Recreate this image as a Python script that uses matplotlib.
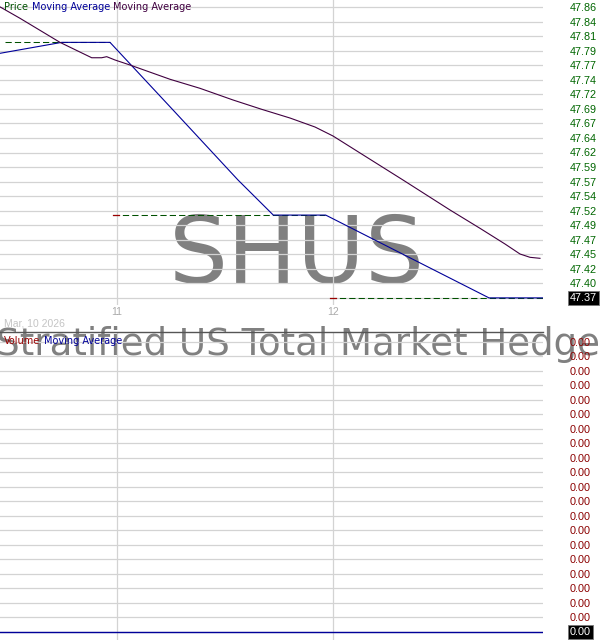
"""Intraday price chart for SHUS with a price panel and a volume panel."""

import matplotlib

matplotlib.use("Agg")
import matplotlib.pyplot as plt
import numpy as np

# --- data --------------------------------------------------------------------
# x values are fractional day numbers (11 = start of Mar 11)
PRICE_SEG_START = [10.4815, 10.981, 11.986]
PRICE_SEG_END = [10.9676, 11.963, 12.9722]
PRICE_VALUES = [47.804, 47.512, 47.372]
PRICE_OPEN_MARK = [False, True, True]

MA1_T = [10.4583, 10.744, 10.9676, 11.2593, 11.5602, 11.7236, 11.9662, 12.7222, 12.9722]
MA1_V = [47.7855, 47.804, 47.804, 47.6897, 47.5713, 47.512, 47.512, 47.372, 47.372]

MA2_T = [10.4583, 10.5509, 10.7361, 10.8829, 10.9292, 10.9523, 10.9907, 11.0602,
         11.2454, 11.3843, 11.5370, 11.6699, 11.8009, 11.9167, 12.0, 12.125,
         12.3241, 12.5417, 12.6806, 12.7963, 12.8657, 12.912, 12.9583]
MA2_V = [47.864, 47.8447, 47.804, 47.778, 47.778, 47.7798, 47.7742, 47.7657,
         47.7416, 47.7263, 47.7066, 47.6908, 47.6761, 47.6609, 47.6457, 47.6170,
         47.5713, 47.5206, 47.4896, 47.4631, 47.4462, 47.4406, 47.4389]

VOLUME_T = [10.4815, 10.981, 11.986]
VOLUME = [0.0, 0.0, 0.0]
VOL_MA_T = [10.4583, 12.9722]
VOL_MA = [0.0, 0.0]

X_RANGE = (10.4583, 12.9722)
X_TICKS = [11, 12]
X_TICK_LABELS = ["11", "12"]

PRICE_LO, PRICE_HI = 47.3718, 47.8638
PRICE_TICK_LABELS = ["47.37", "47.40", "47.42", "47.45", "47.47", "47.49", "47.52",
                     "47.54", "47.57", "47.59", "47.62", "47.64", "47.67", "47.69",
                     "47.72", "47.74", "47.77", "47.79", "47.81", "47.84", "47.86"]
LAST_PRICE_LABEL = "47.37"

VOL_LO, VOL_HI = 0.0, 0.004
VOL_TICK_LABELS = ["0.00"] * 21
LAST_VOL_LABEL = "0.00"

DATE_LABEL = "Mar, 10 2026"
SYMBOL = "SHUS"
FUND_NAME = "Stratified US Total Market Hedged ETF"

# --- style -------------------------------------------------------------------
GRID_C = "#d3d3d3"
BLUE = "#000099"
PURPLE = "#400040"
PRICE_C = "#005000"
RED = "#990000"
LABEL_GREEN = "#006600"
LABEL_RED = "#8b0000"
LABEL_FONT = "Liberation Sans"

W, H = 600, 640
PLOT_W = 543


def chain_text(ax, fig, x, y, parts, fontsize=7):
    t = fig.text(x, y, parts[0][0], color=parts[0][1], fontsize=fontsize,
                 ha="left", va="center", family="DejaVu Sans")
    for s, c in parts[1:]:
        t = ax.annotate(s, xy=(1, 0), xycoords=t, xytext=(2.6, 0),
                        textcoords="offset points", ha="left", va="bottom",
                        color=c, fontsize=fontsize, family="DejaVu Sans")
    return t


def style_axis(ax, ticks, labels, color, lo_pad, hi_pad):
    step = ticks[1] - ticks[0]
    ax.set_xlim(*X_RANGE)
    ax.set_ylim(ticks[0] - lo_pad * step, ticks[-1] + hi_pad * step)
    ax.set_facecolor("none")
    ax.yaxis.tick_right()
    ax.set_yticks(ticks)
    ax.set_yticklabels(labels)
    ax.tick_params(axis="y", length=0, pad=19.4, labelsize=7.8, labelcolor=color)
    for lab in ax.get_yticklabels():
        lab.set_family(LABEL_FONT)
    ax.set_xticks(X_TICKS)
    ax.grid(True, color=GRID_C, lw=0.9, zorder=0)
    for s in ax.spines.values():
        s.set_visible(False)


def boxed_label(ax, value, text):
    ax.text(1 + 27 / PLOT_W, value, text, transform=ax.get_yaxis_transform(),
            ha="left", va="center", fontsize=7.8, family=LABEL_FONT, color="white",
            bbox={"facecolor": "black", "edgecolor": "#777777", "pad": 1.6, "lw": 0.6},
            zorder=5)


def main() -> None:
    fig = plt.figure(figsize=(W / 100, H / 100), dpi=100)

    # --- price panel ---------------------------------------------------------
    ax = fig.add_axes([0, 1 - 305 / H, PLOT_W / W, 305 / H])
    pticks = np.linspace(PRICE_LO, PRICE_HI, len(PRICE_TICK_LABELS))
    style_axis(ax, pticks, PRICE_TICK_LABELS, LABEL_GREEN, 7 / 14.55, 7 / 14.55)
    ax.set_xticklabels(X_TICK_LABELS)
    ax.tick_params(axis="x", length=0, pad=1.5, labelsize=7.5, labelcolor="#aaaaaa")
    for lab in ax.get_xticklabels():
        lab.set_family(LABEL_FONT)

    tick_w = (X_RANGE[1] - X_RANGE[0]) * 6 / PLOT_W
    for t0, t1, v, mark in zip(PRICE_SEG_START, PRICE_SEG_END, PRICE_VALUES, PRICE_OPEN_MARK):
        ax.plot([t0, t1], [v, v], color=PRICE_C, lw=0.75, dashes=(6, 3), zorder=3)
        if mark:
            ax.plot([t0, t0 + tick_w], [v, v], color=RED, lw=0.9, zorder=4)
    ax.plot(MA1_T, MA1_V, color=BLUE, lw=0.8, zorder=4)
    ax.plot(MA2_T, MA2_V, color=PURPLE, lw=0.8, zorder=4)
    boxed_label(ax, PRICE_VALUES[-1], LAST_PRICE_LABEL)

    # --- volume panel --------------------------------------------------------
    axv = fig.add_axes([0, 0, PLOT_W / W, 308 / H])
    vticks = np.linspace(VOL_LO, VOL_HI, len(VOL_TICK_LABELS))
    style_axis(axv, vticks, VOL_TICK_LABELS, LABEL_RED, 8 / 14.52, 9.7 / 14.52)
    axv.set_xticklabels([])
    axv.tick_params(axis="x", length=0)
    axv.spines["top"].set_visible(True)
    axv.spines["top"].set_color("#555555")
    axv.spines["top"].set_linewidth(1.0)
    axv.bar(VOLUME_T, VOLUME, width=0.02, color=BLUE, lw=0)
    axv.plot(VOL_MA_T, VOL_MA, color=BLUE, lw=1.0, zorder=4)
    boxed_label(axv, VOL_MA[-1], LAST_VOL_LABEL)

    # --- watermark texts (behind both panels) --------------------------------
    fig.text(297 / W, 1 - 283 / H, SYMBOL, fontsize=67, color="#808080",
             ha="center", va="baseline", family="DejaVu Sans", zorder=-1)
    fig.text(-4 / W, 1 - 355 / H, FUND_NAME, fontsize=26.7, color="#808080",
             ha="left", va="baseline", family="DejaVu Sans", zorder=-1)

    fig.text(4 / W, 1 - 323 / H, DATE_LABEL, fontsize=7.5, color="#c4c4c4",
             ha="left", va="center", family=LABEL_FONT)

    # --- legends -------------------------------------------------------------
    chain_text(ax, fig, 4 / W, 1 - 7 / H,
               [("Price", PRICE_C), ("Moving Average", BLUE), ("Moving Average", PURPLE)])
    chain_text(axv, fig, 4 / W, 1 - 341 / H,
               [("Volume", RED), ("Moving Average", BLUE)])

    fig.savefig("out.png", dpi=100)
    plt.close(fig)


if __name__ == "__main__":
    main()
